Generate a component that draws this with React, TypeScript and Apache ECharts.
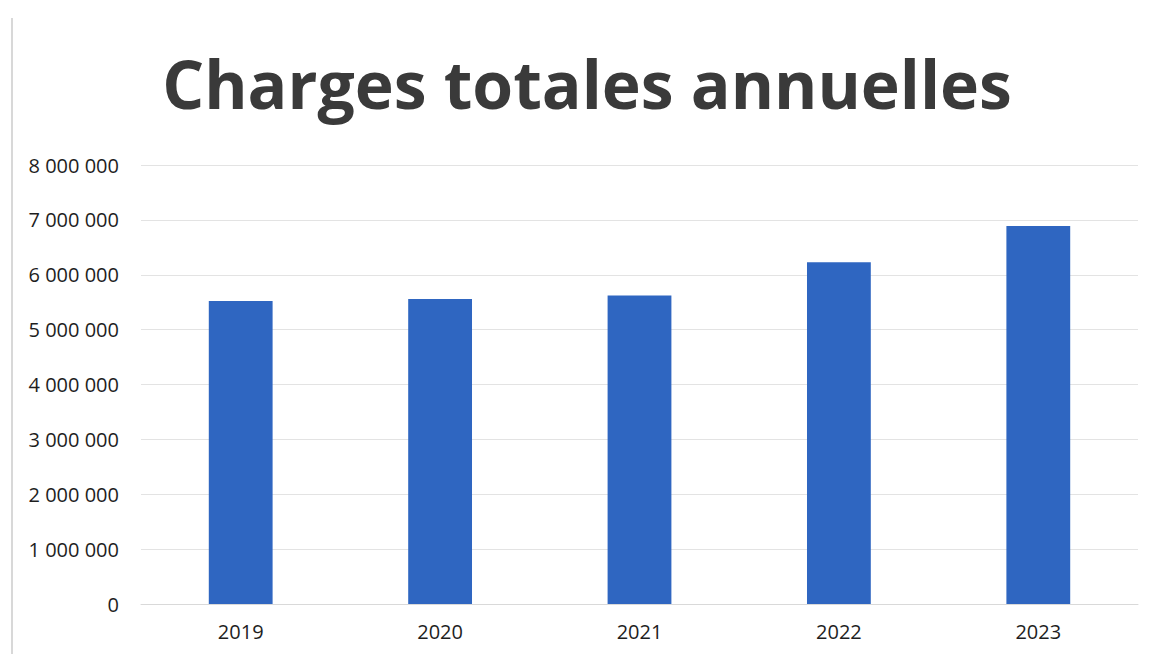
import React, { useEffect, useRef } from "react";
import * as echarts from "echarts";

const title = "Charges totales annuelles";
const years = ["2019", "2020", "2021", "2022", "2023"];
const charges = [5520000, 5560000, 5620000, 6230000, 6890000];
const yMin = 0;
const yMax = 8000000;
const yStep = 1000000;

const fmt = (v: number) => String(v).replace(/\B(?=(\d{3})+(?!\d))/g, " ");

export default function App() {
  const ref = useRef<HTMLDivElement>(null);
  useEffect(() => {
    if (!ref.current) return;
    const chart = echarts.init(ref.current, undefined, { renderer: "svg" });
    chart.setOption({
      animation: false,
      backgroundColor: "#ffffff",
      title: {
        text: title,
        left: 582,
        textAlign: "center",
        top: 45,
        textStyle: {
          fontFamily: "Open Sans",
          fontWeight: "bold",
          fontSize: 66,
          color: "#3a3a3a",
        },
      },
      graphic: [
        {
          type: "line",
          shape: { x1: 12, y1: 18, x2: 12, y2: 654 },
          style: { stroke: "#d8d8d8", lineWidth: 2 },
        },
      ],
      grid: { left: 141, right: 14, top: 165, bottom: 50, containLabel: false },
      xAxis: {
        type: "category",
        data: years,
        axisLine: { lineStyle: { color: "#d9d9d9", width: 1 } },
        axisTick: { show: false },
        axisLabel: {
          fontFamily: "Open Sans",
          fontSize: 20,
          color: "#1e1e1e",
          margin: 17,
        },
      },
      yAxis: {
        type: "value",
        min: yMin,
        max: yMax,
        interval: yStep,
        axisLine: { show: false },
        axisTick: { show: false },
        splitLine: { lineStyle: { color: "#e3e3e3", width: 1 } },
        axisLabel: {
          fontFamily: "Open Sans",
          fontSize: 20,
          color: "#1e1e1e",
          margin: 22,
          formatter: (v: number) => fmt(v),
        },
      },
      series: [
        {
          type: "bar",
          data: charges,
          barWidth: "32%",
          itemStyle: { color: "#2f66c1" },
        },
      ],
    });
    return () => chart.dispose();
  }, []);
  return (
    <div
      ref={ref}
      style={{ position: "fixed", left: 0, top: 0, width: 1152, height: 654 }}
    />
  );
}
